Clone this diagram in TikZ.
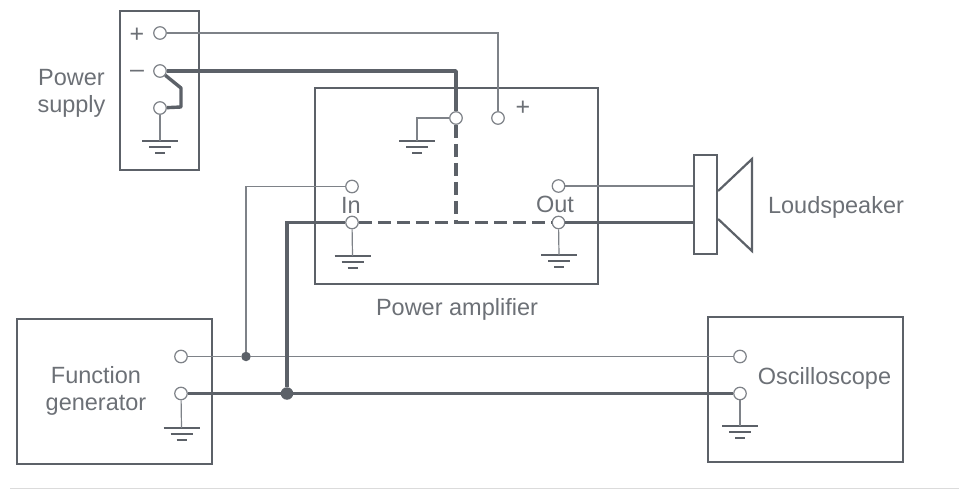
\documentclass[tikz,border=0pt]{standalone}
\usepackage{fontspec}
\setmainfont{Liberation Sans}
\definecolor{ink}{HTML}{5C6168}
\definecolor{thinink}{HTML}{7E8288}
\definecolor{txt}{HTML}{6C7076}
\tikzset{
  x=1pt,y=-1pt,
  box/.style={draw=ink,line width=2.2pt,fill=none,inner sep=0pt,rectangle},
  term/.style={circle,draw=thinink,line width=1.2pt,fill=white,minimum size=12.5pt,inner sep=0pt},
  thinw/.style={draw=thinink,line width=1.2pt},
  thickw/.style={draw=ink,line width=3.4pt},
  dashw/.style={draw=ink,line width=3.2pt,dash pattern=on 13pt off 6pt},
  lbl/.style={text=txt,inner sep=0pt,align=center,font=\fontsize{23.5}{27}\selectfont},
  slbl/.style={text=txt,inner sep=0pt,font=\fontsize{25}{28}\selectfont},
  jct/.style={circle,fill=ink,inner sep=0pt},
  gnd/.pic={
    \draw[ink,line width=1.5pt] (-18,0)--(18,0);
    \draw[ink,line width=1.8pt] (-11,6)--(11,6);
    \draw[ink,line width=2pt] (-5,12)--(5,12);
  }
}
\begin{document}
\begin{tikzpicture}
\useasboundingbox (0,0) rectangle (959,489);
% boxes
\node[box,minimum width=79pt,minimum height=159pt] (ps) at (159.5,90.5) {};
\node[box,minimum width=283pt,minimum height=196pt] (amp) at (456.5,186) {};
\node[box,minimum width=195pt,minimum height=145pt] (fg) at (114.5,391.5) {};
\node[box,minimum width=195pt,minimum height=145pt] (osc) at (805.5,389.5) {};
\node[box,minimum width=23pt,minimum height=99pt] (spk) at (705.5,204.5) {};
% speaker cone
\coordinate (c1) at (spk.east |- 0,191);
\coordinate (c2) at (752,159);
\coordinate (c3) at (752,251);
\coordinate (c4) at (spk.east |- 0,219);
\draw[ink,line width=2.2pt,line join=miter] (c1)--(c2)--(c3)--(c4);
% terminals
\node[term] (pP) at (160,33) {};
\node[term] (pM) at (160,71) {};
\node[term] (pG) at (160,108) {};
\node[term] (aM) at (456,118) {};
\node[term] (aP) at (498,118) {};
\node[term] (iU) at (352,186.5) {};
\node[term] (iL) at (352,222.5) {};
\node[term] (oU) at (558.5,186) {};
\node[term] (oL) at (558.5,222.5) {};
\node[term] (fU) at (181,356.5) {};
\node[term] (fL) at (181,393.5) {};
\node[term] (sU) at (740,356.5) {};
\node[term] (sL) at (740,393.5) {};
% junctions
\node[jct,minimum size=9.5pt] (j1) at (246,356.5) {};
\node[jct,minimum size=12.5pt] (j2) at (287,393.5) {};
% grounds
\coordinate (g1) at (160,141);
\coordinate (g2) at (417,141);
\coordinate (g3) at (352.5,256);
\coordinate (g4) at (559,255);
\coordinate (g5) at (181.5,428);
\coordinate (g6) at (740,426);
\pic at (g1) {gnd};
\pic at (g2) {gnd};
\pic at (g3) {gnd};
\pic at (g4) {gnd};
\pic at (g5) {gnd};
\pic at (g6) {gnd};
\draw[thinw] (pG)--(g1);
\draw[thinw] (aM)-|(g2);
\draw[thinw] (iL)--(g3);
\draw[thinw] (oL)--(g4);
\draw[thinw] (fL)--(g5);
\draw[thinw] (sL)--(g6);
% thin signal wires
\draw[thinw] (pP)-|(aP);
\draw[thinw] (oU)--(oU -| spk.west);
\draw[thinw] (fU)--(j1);
\draw[thinw] (j1)--(sU);
\draw[thinw] (j1)|-(iU);
% thick wires
\draw[thickw,line join=round] (pM)-|(aM);
\coordinate (k1) at (181,88);
\coordinate (k2) at (181,107);
\draw[thickw,line join=round] (pM)--(k1)--(k2)--(pG);
\draw[thickw] (oL)--(oL -| spk.west);
\draw[thickw] (fL)--(j2);
\draw[thickw] (j2)--(sL);
\draw[thickw,line join=miter] (j2)|-(iL);
% dashed wires
\coordinate (t) at (456,222.5);
\draw[dashw] (aM)--(t);
\draw[dashw] (iL)--(t);
\draw[dashw] (t)--(oL);
% labels
\node[lbl] (lps) at (71.5,93) {Power\\supply};
\node[lbl] (lfg) at (96,391) {Function\\generator};
\node[lbl] (lsp) at (836,207) {Loudspeaker};
\node[lbl] (los) at (824.5,378) {Oscilloscope};
\node[lbl] (lam) at (457,309) {Power amplifier};
\node[lbl] (lin) at (351,205) {In};
\node[lbl] (lou) at (555,204) {Out};
\node[slbl] (sp1) at (137,35) {+};
\node[slbl] (sm1) at (137,74) {–};
\node[slbl] (sp2) at (523,108) {+};
% page edge line
\coordinate (e1) at (10,488);
\coordinate (e2) at (959,488);
\draw[black!14,line width=1pt] (e1)--(e2);
\end{tikzpicture}
\end{document}
